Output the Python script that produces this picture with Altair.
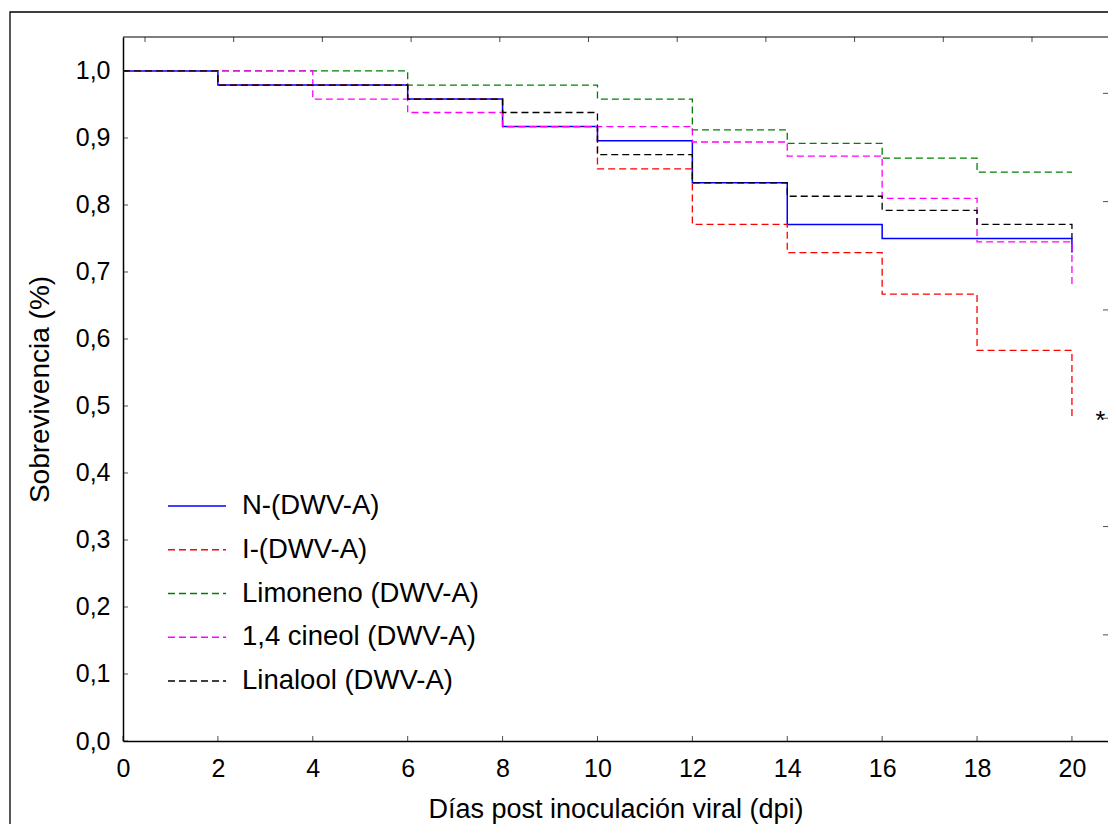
import altair as alt
import pandas as pd

# ---------------- data ----------------
days = [0, 2, 4, 6, 8, 10, 12, 14, 16, 18, 20]
series_names = ["N-(DWV-A)", "I-(DWV-A)", "Limoneno (DWV-A)", "1,4 cineol (DWV-A)", "Linalool (DWV-A)"]
surv_n = [1.0, 0.979, 0.979, 0.958, 0.917, 0.896, 0.833, 0.771, 0.750, 0.750, 0.729]
surv_i = [1.0, 0.979, 0.979, 0.958, 0.917, 0.854, 0.771, 0.729, 0.667, 0.583, 0.479]
surv_lim = [1.0, 1.0, 1.0, 0.979, 0.979, 0.958, 0.912, 0.892, 0.870, 0.849, 0.849]
surv_cin = [1.0, 1.0, 0.958, 0.938, 0.917, 0.917, 0.894, 0.873, 0.810, 0.745, 0.681]
surv_lin = [1.0, 0.979, 0.979, 0.958, 0.938, 0.875, 0.833, 0.813, 0.792, 0.771, 0.750]
all_surv = [surv_n, surv_i, surv_lim, surv_cin, surv_lin]

series_colors = ["#0000ff", "#ff0000", "#008000", "#ff00ff", "#000000"]
series_dashes = [[1, 0], [7, 4], [7, 4], [7, 4], [7, 4]]

x_ticks = [0, 2, 4, 6, 8, 10, 12, 14, 16, 18, 20]
y_ticks = [0.0, 0.1, 0.2, 0.3, 0.4, 0.5, 0.6, 0.7, 0.8, 0.9, 1.0]
top_ticks = [0, 1, 2, 3, 4, 5, 6, 7, 8, 9, 10]
right_ticks = [1, 2, 3, 4, 5, 6]

star_day = [20.6]
star_surv = [0.487]

W, H = 985, 704
FONT = "Liberation Sans"

rows = []
for name, vals in zip(series_names, all_surv):
    for d, v in zip(days, vals):
        rows.append({"serie": name, "day": d, "surv": v})
df = pd.DataFrame(rows)

x_enc = alt.X(
    "day:Q",
    scale=alt.Scale(domain=[0, 20.76], nice=False, zero=False),
    axis=alt.Axis(
        orient="bottom", values=x_ticks, format="d", ticks=False, tickSize=0,
        labelFlush=False,
        labelPadding=15, labelFontSize=25, labelFont=FONT, labelColor="black",
        title="Días post inoculación viral (dpi)", titleFont=FONT, titleFontSize=27,
        titleFontWeight="normal", titleColor="black", titlePadding=15,
        domainColor="black", domainWidth=1.5, grid=False,
    ),
)
y_enc = alt.Y(
    "surv:Q",
    scale=alt.Scale(domain=[0, 1.0507], nice=False, zero=False),
    axis=alt.Axis(
        orient="left", values=y_ticks, ticks=False, tickSize=0,
        labelFlush=False,
        labelExpr="replace(format(datum.value, '.1f'), '.', ',')",
        labelPadding=13, labelFontSize=25, labelFont=FONT, labelColor="black",
        title="Sobrevivencia (%)", titleFont=FONT, titleFontSize=28,
        titleFontWeight="normal", titleColor="black", titlePadding=21,
        domainColor="black", domainWidth=1.5, grid=False,
    ),
)

layers = []
for name, col, dash in zip(series_names, series_colors, series_dashes):
    mk = dict(interpolate="step-after", color=col, strokeWidth=1.5 if dash == [1, 0] else 1.3)
    if dash != [1, 0]:
        mk["strokeDash"] = dash
    layers.append(
        alt.Chart(df).transform_filter(alt.datum.serie == name)
        .mark_line(**mk).encode(x=x_enc, y=y_enc)
    )

bt_df = pd.DataFrame({"day": x_ticks})
lt_df = pd.DataFrame({"surv": y_ticks})
bottom_ticks = alt.Chart(bt_df).mark_tick(color="black", size=5, thickness=1).encode(
    x=x_enc, y=alt.value(H - 2.5))
left_ticks = alt.Chart(lt_df).mark_tick(color="black", size=5, thickness=1).encode(
    y=y_enc, x=alt.value(2.5))

star_df = pd.DataFrame({"day": star_day, "surv": star_surv, "t": ["*"]})
star = alt.Chart(star_df).mark_text(font=FONT, fontSize=25, baseline="alphabetic", dy=14,
                                    color="black").encode(x=x_enc, y=y_enc, text="t:N")

inner = alt.layer(*layers, bottom_ticks, left_ticks, star)

# secondary frame ticks (top / right) and top border
tt_df = pd.DataFrame({"k": top_ticks})
top_t = alt.Chart(tt_df).mark_tick(color="black", size=5, thickness=1).encode(
    x=alt.X("k:Q", scale=alt.Scale(domain=[-0.248, 10.857], nice=False, zero=False), axis=None),
    y=alt.value(2.5))
rt_df = pd.DataFrame({"k": right_ticks})
right_t = alt.Chart(rt_df).mark_tick(color="black", size=5, thickness=1).encode(
    y=alt.Y("k:Q", scale=alt.Scale(domain=[0.02, 6.52], nice=False, zero=False), axis=None),
    x=alt.value(W - 2.5))
top_border = alt.Chart(pd.DataFrame({"a": [0]})).mark_rule(color="black", strokeWidth=1).encode(
    x=alt.value(0), x2=alt.value(W), y=alt.value(0))

# legend
leg_df = pd.DataFrame({"name": series_names})
leg_y = alt.Y("name:N", scale=alt.Scale(type="point", domain=series_names, range=[469, 644], padding=0),
              axis=None)
leg_lines = alt.Chart(leg_df).mark_rule(strokeWidth=1.3).encode(
    x=alt.value(45), x2=alt.value(103), y=leg_y,
    color=alt.Color("name:N", scale=alt.Scale(domain=series_names, range=series_colors), legend=None),
    strokeDash=alt.StrokeDash("name:N", scale=alt.Scale(domain=series_names, range=[[60, 0], [7, 4], [7, 4], [7, 4], [7, 4]]), legend=None),
)
leg_text = alt.Chart(leg_df).mark_text(align="left", baseline="middle", font=FONT, fontSize=27.5,
                                       color="black").encode(
    x=alt.value(119), y=leg_y, text="name:N")

frame = alt.Chart(pd.DataFrame({"a": [0]})).mark_rect(
    fill="white", fillOpacity=0, stroke="black", strokeWidth=1.3, clip=False).encode(
    x=alt.value(-113), x2=alt.value(1200), y=alt.value(-25), y2=alt.value(1000))

chart = alt.layer(inner, top_t, right_t, top_border, leg_lines, leg_text, frame).resolve_scale(
    x="independent", y="independent", color="independent", strokeDash="independent"
).properties(
    width=W, height=H,
    padding={"left": 115, "top": 29, "right": 0, "bottom": 83},
    autosize=alt.AutoSizeParams(type="none"),
    background="white",
).configure_view(stroke="transparent", strokeWidth=0)

chart.save("out.html", embed_options={"renderer": "svg", "actions": False})
